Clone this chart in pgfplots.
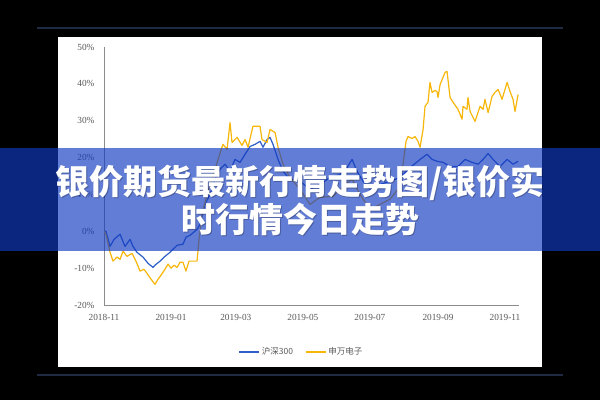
\documentclass[border=0pt]{standalone}
\usepackage{pgfplots}
\pgfplotsset{compat=1.18}
\usepackage{fontspec}
\setmainfont{Liberation Serif}
\newfontfamily\cjk{Noto Sans CJK SC}
\definecolor{hsblue}{RGB}{46,94,200}
\definecolor{swyellow}{RGB}{247,183,10}
\definecolor{axisgray}{RGB}{140,140,140}
\definecolor{labelgray}{RGB}{89,89,89}
\definecolor{navyline}{RGB}{32,42,66}
\definecolor{bannerblue}{RGB}{18,58,194}

\pgfplotstableread{
d v
0 0.0
1.8 0.0
5.5 -4.1
9.1 -2.2
14.6 -0.8
19.1 -4.1
23.7 -2.2
26.4 -4.1
30.0 -5.7
35.5 -7.0
40.1 -8.7
44.6 -9.8
46.4 -9.2
51.0 -8.1
55.5 -6.8
60.1 -5.7
66.5 -3.8
71.9 -3.5
74.6 -1.6
78.3 -1.1
84.7 0.5
87.4 1.9
91.9 7.3
96.5 10.0
101.0 14.1
105.6 16.8
110.1 18.2
114.7 16.3
119.2 19.5
123.8 18.7
128.4 20.9
132.9 23.0
137.5 23.6
142.0 24.4
144.7 22.8
148.4 24.9
151.1 25.5
153.8 23.6
158.4 19.5
162.9 16.3
169.3 14.1
178.4 13.6
187.5 11.4
196.6 12.7
205.7 14.6
214.8 15.4
221.2 17.3
225.8 19.5
230.3 16.3
235.8 13.6
242.1 11.4
251.2 12.7
260.3 13.6
269.5 14.6
278.6 17.3
287.7 19.5
294.0 20.9
298.6 19.5
303.1 19.0
308.6 18.7
315.0 17.6
322.2 17.6
328.6 19.5
335.0 18.7
340.5 18.2
345.0 19.5
349.6 21.1
354.1 19.5
360.5 17.6
366.9 19.5
372.3 18.2
376.9 19.0
}\hsdata

\pgfplotstableread{
d v
0 0.0
1.8 -0.8
5.5 -5.7
8.2 -8.1
11.8 -7.0
14.6 -7.6
17.3 -5.4
20.9 -6.8
25.5 -6.0
29.1 -8.1
32.8 -10.8
36.4 -10.3
39.1 -11.4
42.8 -13.0
46.4 -14.4
49.2 -13.0
51.9 -11.9
55.5 -10.3
58.3 -8.9
61.0 -10.0
63.7 -9.2
66.5 -9.8
69.2 -8.4
71.9 -8.4
74.6 -10.8
77.4 -8.1
81.0 -8.1
84.7 -8.1
86.5 -2.2
89.2 4.6
93.8 10.0
98.3 14.1
103.8 19.5
108.3 23.6
112.0 22.2
114.7 29.5
116.5 24.1
121.1 25.5
125.6 23.3
128.4 24.9
131.1 22.8
135.6 28.5
142.0 28.5
143.8 24.9
148.4 24.1
151.1 27.6
155.7 26.8
158.4 22.8
162.9 18.2
169.3 14.6
178.4 11.4
187.5 7.3
196.6 9.2
208.5 9.5
219.4 12.7
225.8 14.1
233.0 10.0
242.1 6.0
251.2 7.3
260.3 8.7
267.6 11.4
272.2 18.2
274.9 24.4
276.7 25.7
280.4 25.2
283.1 25.7
285.8 24.4
287.7 22.8
290.4 27.6
292.2 33.9
294.9 35.0
296.7 40.4
298.6 37.7
301.3 38.2
303.1 37.9
304.0 36.3
305.9 39.8
310.4 43.1
312.2 43.4
315.0 36.3
317.7 35.0
322.2 33.1
325.9 30.4
326.8 33.9
330.4 33.1
331.3 36.3
333.2 32.5
337.7 29.8
342.3 33.9
345.0 33.1
346.8 35.8
349.6 32.2
353.2 36.6
355.9 37.7
358.7 38.5
362.3 35.8
365.0 38.5
366.9 40.4
369.6 37.9
372.3 35.8
374.1 32.5
376.9 37.1
}\swdata

\begin{document}
\begin{tikzpicture}
\fill[black] (0pt,0pt) rectangle (600pt,400pt);
\draw[navyline, line width=2pt] (37pt,372pt) -- (563pt,372pt);
\fill[white] (58pt,33pt) rectangle (542pt,363pt);
\draw[navyline, line width=1.5pt] (37pt,25pt) -- (563pt,25pt);
\begin{axis}[
  at={(104pt,95pt)}, anchor=south west,
  scale only axis, width=415.3pt, height=258pt,
  xmin=0, xmax=378, ymin=-20, ymax=50,
  axis lines=left,
  axis line style={-, draw=axisgray, line width=0.9pt},
  tick style={draw=none},
  major tick length=0pt,
  xtick={0,61,120,181,242,304,365},
  xticklabels={2018-11,2019-01,2019-03,2019-05,2019-07,2019-09,2019-11},
  ytick={-20,-10,0,10,20,30,40,50},
  yticklabel={\pgfmathprintnumber{\tick}\%},
  /pgf/number format/assume math mode=true,
  ticklabel style={font=\fontsize{9.3}{10}\selectfont, text=labelgray},
  yticklabel style={xshift=-6pt},
  xticklabel style={yshift=-6pt},
  clip=false,
  legend style={at={(0.4756,-0.182)}, anchor=center, draw=none, fill=none,
    font=\fontsize{8.5}{10}\cjk\color{labelgray},
    legend columns=2,
    /tikz/every even column/.append style={column sep=10pt}},
  legend image code/.code={\draw[#1] (0pt,0pt) -- (20pt,0pt);},
]
\addplot[hsblue, line width=1.2pt, line join=round] table[x=d,y=v] {\hsdata};
\addlegendentry{沪深300}
\addplot[swyellow, line width=1.2pt, line join=round] table[x=d,y=v] {\swdata};
\addlegendentry{申万电子}
\end{axis}
\fill[bannerblue, opacity=0.66] (0pt,149pt) rectangle (600pt,252pt);
\node[text=black, opacity=0.25, font=\fontsize{34}{36}\cjk\bfseries] at (301pt,216pt) {银价期货最新行情走势图/银价实};
\node[text=black, opacity=0.25, font=\fontsize{34}{36}\cjk\bfseries] at (301pt,180pt) {时行情今日走势};
\node[text=white, font=\fontsize{34}{36}\cjk\bfseries] at (300pt,217pt) {银价期货最新行情走势图/银价实};
\node[text=white, font=\fontsize{34}{36}\cjk\bfseries] at (300pt,181pt) {时行情今日走势};
\end{tikzpicture}
\end{document}
